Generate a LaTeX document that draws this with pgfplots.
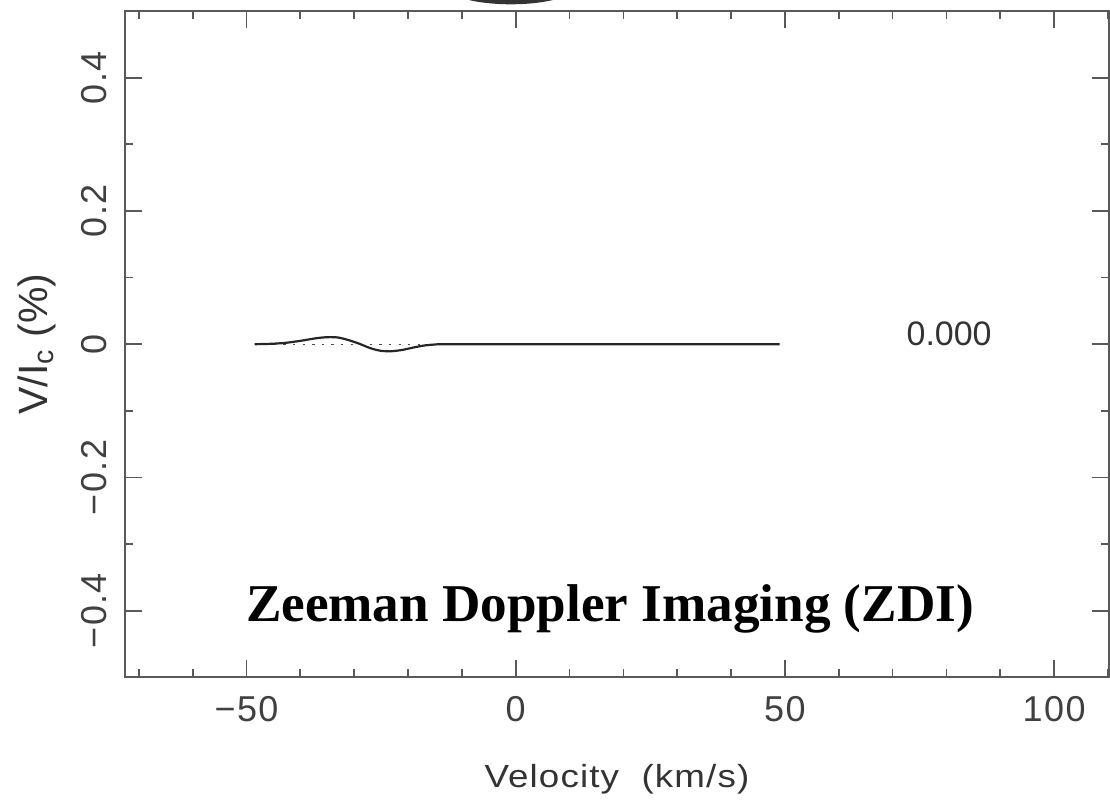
\documentclass[border=0pt]{standalone}
\usepackage{pgfplots}
\pgfplotsset{compat=1.18}
\usepackage{graphicx}
\usepackage{fontspec}
\setmainfont{Liberation Sans}
\newfontfamily\tickfont[LetterSpace=4]{Liberation Sans}
\newfontfamily\labelfont[LetterSpace=3]{Liberation Sans}
\newfontfamily\titlefont{Liberation Serif}

% Stokes V profile (per cent of continuum) against velocity
\pgfplotstableread{
v      s
-48.5  0.0000
-46    0.0004
-43    0.0018
-40    0.0050
-37    0.0090
-35    0.0105
-33    0.0100
-31    0.0060
-29    0.0005
-27   -0.0060
-25   -0.0100
-23   -0.0105
-21   -0.0085
-19   -0.0050
-17   -0.0020
-15   -0.0005
-13    0.0000
0      0.0000
20     0.0000
49     0.0000
}\stokesV

\begin{document}
\begin{tikzpicture}
\begin{axis}[
  scale only axis,
  width=492.5pt, height=333.5pt,
  xmin=-72.6, xmax=110.2,
  ymin=-0.5, ymax=0.5,
  clip=false,
  xtick={-50,0,50,100},
  xticklabels={−50,0,50,100},
  minor xtick={-70,-60,-40,-30,-20,-10,10,20,30,40,60,70,80,90,110},
  ytick={-0.4,-0.2,0,0.2,0.4},
  yticklabels={−0.4,−0.2,0,0.2,0.4},
  minor ytick={-0.3,-0.1,0.1,0.3},
  tick align=inside,
  major tick length=8.5pt,
  minor tick length=4pt,
  axis line style={draw=black!65, line width=0.9pt},
  every tick/.style={draw=black!65, line width=0.9pt},
  tick label style={font=\tickfont\fontsize{18}{20}\selectfont, text=black!75},
  xticklabel style={inner sep=0pt, anchor=north},
  xticklabel shift=9.5pt,
  yticklabel style={inner sep=0pt, rotate=90, anchor=south},
  yticklabel shift=9pt,
  xlabel={\scalebox{1.15}[1]{Velocity\ \ (km/s)}},
  ylabel={V/I\textsubscript{c} (\%)},
  xlabel style={font=\labelfont\fontsize{16}{18}\selectfont, text=black!80,
    at={(axis description cs:0.5,-0.153)}, anchor=center},
  ylabel style={font=\fontsize{20.5}{23}\selectfont, text=black!80,
    at={(axis description cs:-0.0893,0.5)}, anchor=center},
]
  % zero level
  \addplot[black!70, line width=0.6pt, dash pattern=on 1.2pt off 3.6pt]
    coordinates {(-48.5,0) (49,0)};
  % observed profile
  \addplot[black!85, line width=1.1pt, smooth] table[x=v, y=s] {\stokesV};

  % rotation phase
  \node[font=\fontsize{17}{20}\selectfont, text=black!80]
    at (axis cs:80.5,0.015) {0.000};

  % caption
  \node[anchor=base, font=\titlefont\bfseries\fontsize{26.6}{30}\selectfont]
    at (axis cs:17.5,-0.4155) {Zeeman Doppler Imaging (ZDI)};

  % lower edge of the star image above the panel
  \fill[black!80] (axis cs:-0.9,0.54) ellipse [x radius=34pt, y radius=10pt];
\end{axis}
\pgfresetboundingbox
\path[use as bounding box]
  ([xshift=-62.5pt,yshift=-63pt]current axis.south west)
  rectangle ([xshift=0.5pt,yshift=5.5pt]current axis.north east);
\end{tikzpicture}
\end{document}
